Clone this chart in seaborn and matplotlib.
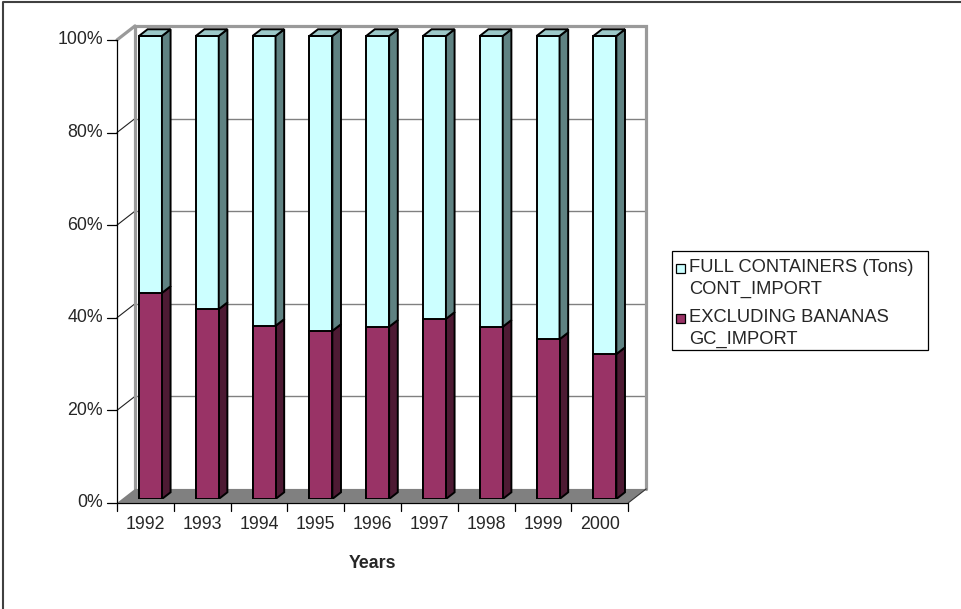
import matplotlib
matplotlib.use("Agg")
import matplotlib.pyplot as plt
from matplotlib.patches import Polygon, Rectangle
from matplotlib.lines import Line2D
import seaborn as sns

# ---- data -------------------------------------------------------------
years = ["1992", "1993", "1994", "1995", "1996", "1997", "1998", "1999", "2000"]
gc_import = [44.5, 41.0, 37.4, 36.3, 37.2, 38.9, 37.2, 34.5, 31.3]     # EXCLUDING BANANAS GC_IMPORT
cont_import = [55.5, 59.0, 62.6, 63.7, 62.8, 61.1, 62.8, 65.5, 68.7]   # FULL CONTAINERS (Tons) CONT_IMPORT
y_ticks = [0, 0.2, 0.4, 0.6, 0.8, 1.0]
y_tick_labels = ["0%", "20%", "40%", "60%", "80%", "100%"]
legend_labels = [["FULL CONTAINERS (Tons)", "CONT_IMPORT"],
                 ["EXCLUDING BANANAS", "GC_IMPORT"]]

# ---- style ------------------------------------------------------------
sns.set_style("white")
plt.rcParams["font.family"] = ["Liberation Sans", "DejaVu Sans"]
FS = 12.8
FS_LEG = 13.2

CYAN = "#CCFFFF"
CYAN_SIDE = "#5F8282"
CYAN_TOP = "#9CC9C9"
MAROON = "#993366"
MAROON_SIDE = "#4D1A33"
FLOOR = "#808080"
WALL_EDGE = "#9A9A9A"
GRID = "#808080"

W, H = 962, 609
fig = plt.figure(figsize=(W / 100, H / 100), dpi=100)

# pixel geometry of the plot box (bar plane: value 0 -> 499 px, 1 -> 36 px)
PX_PER_CAT = 56.8
PX_PER_UNIT = 463.0
DX = 18 / PX_PER_CAT      # full depth, x offset in data units
DY = 14 / PX_PER_UNIT     # full depth, y offset in data units
TB = 0.28                 # depth of the bar front faces
TBACK = 0.76              # depth of the bar back faces

x_lo, x_hi = -0.5 - TB * DX, 8.8
y_lo, y_hi = 0.0, 1.06
left_px, bottom_px = 117, 499
ax = fig.add_axes([left_px / W, (H - bottom_px) / H,
                   (x_hi - x_lo) * PX_PER_CAT / W, (y_hi - y_lo) * PX_PER_UNIT / H])


def P(x, v, t):
    """Point at category position x, value v, depth t (0 front, 1 back)."""
    return (x + (t - TB) * DX, v + (t - TB) * DY)


# ---- 100% stacked shares ---------------------------------------------
totals = [a + b for a, b in zip(gc_import, cont_import)]
gc_share = [a / s for a, s in zip(gc_import, totals)]
stack_top = [(a + b) / s for a, b, s in zip(gc_import, cont_import, totals)]

# ---- walls and floor --------------------------------------------------
n = len(years)
xl, xr = -0.5, n - 0.5

floor = Polygon([P(xl, 0, 0), P(xr, 0, 0), P(xr, 0, 1), P(xl, 0, 1)],
                closed=True, facecolor=FLOOR, edgecolor="none", zorder=1, clip_on=False)
ax.add_patch(floor)

for v in y_ticks[1:-1]:
    a, b = P(xl, v, 1), P(xr, v, 1)
    ax.add_line(Line2D([a[0], b[0]], [a[1], b[1]], color=GRID, lw=1.0, zorder=0.5))
    c, d = P(xl, v, 0), P(xl, v, 1)
    ax.add_line(Line2D([c[0], d[0]], [c[1], d[1]], color="#202020", lw=0.8, zorder=0.5,
                       clip_on=False))

# back wall outline (left, top, right) and the side wall top edge
wall = [P(xl, 0, 1), P(xl, 1, 1), P(xr, 1, 1), P(xr, 0, 1)]
ax.add_line(Line2D([p[0] for p in wall], [p[1] for p in wall], color=WALL_EDGE, lw=2.3,
                   zorder=0.8, solid_joinstyle="miter"))
a, b = P(xl, 1, 0), P(xl, 1, 1)
ax.add_line(Line2D([a[0], b[0]], [a[1], b[1]], color=WALL_EDGE, lw=2.3, zorder=0.8,
                   clip_on=False))

# front axes lines
a, b = P(xl, 0, 0), P(xl, 1, 0)
ax.add_line(Line2D([a[0], b[0]], [a[1], b[1]], color="black", lw=0.9, zorder=2, clip_on=False))
a, b = P(xl, 0, 0), P(xr, 0, 0)
ax.add_line(Line2D([a[0], b[0]], [a[1], b[1]], color="black", lw=0.9, zorder=2, clip_on=False))
a, b = P(xr, 0, 0), P(xr, 0, 1)
ax.add_line(Line2D([a[0], b[0]], [a[1], b[1]], color="#333333", lw=0.8, zorder=2, clip_on=False))

# y ticks and labels
tick_len_x = 10 / PX_PER_CAT
for v, lab in zip(y_ticks, y_tick_labels):
    fx, fy = P(xl, v, 0)
    ax.add_line(Line2D([fx - tick_len_x, fx], [fy, fy], color="black", lw=0.9, clip_on=False))
    ax.text(fx - tick_len_x - 4 / PX_PER_CAT, fy, lab, ha="right", va="center", fontsize=FS)

# x ticks and labels
tick_len_y = 8 / PX_PER_UNIT
for k in range(n + 1):
    fx, fy = P(k - 0.5, 0, 0)
    ax.add_line(Line2D([fx, fx], [fy, fy - tick_len_y], color="black", lw=0.9, clip_on=False))
for i, lab in enumerate(years):
    fx, fy = P(i, 0, 0)
    ax.text(fx, fy - 22 / PX_PER_UNIT, lab, ha="center", va="center", fontsize=FS)
fx, fy = P((n - 1) / 2, 0, 0)
ax.text(fx, fy - 61 / PX_PER_UNIT, "Years", ha="center", va="center", fontsize=FS,
        fontweight="bold")

# ---- bars (front faces) -----------------------------------------------
BAR_W = 23 / PX_PER_CAT
n0 = len(ax.patches)
sns.barplot(x=years, y=stack_top, order=years, color=CYAN, saturation=1, width=BAR_W,
            edgecolor="black", linewidth=1.4, ax=ax, zorder=3)
cyan_bars = ax.patches[n0:]
n1 = len(ax.patches)
sns.barplot(x=years, y=gc_share, order=years, color=MAROON, saturation=1, width=BAR_W,
            edgecolor="black", linewidth=1.4, ax=ax, zorder=3.2)
maroon_bars = ax.patches[n1:]

# ---- bar sides and tops -------------------------------------------------
ddx, ddy = (TBACK - TB) * DX, (TBACK - TB) * DY
for cb, mb in zip(cyan_bars, maroon_bars):
    x0 = cb.get_x()
    x1 = x0 + cb.get_width()
    top = cb.get_height()
    mid = mb.get_height()
    side_kw = dict(closed=True, edgecolor="black", linewidth=1.4, zorder=3.1,
                   joinstyle="miter")
    ax.add_patch(Polygon([(x1, 0), (x1, mid), (x1 + ddx, mid + ddy), (x1 + ddx, ddy)],
                         facecolor=MAROON_SIDE, **side_kw))
    ax.add_patch(Polygon([(x1, mid), (x1, top), (x1 + ddx, top + ddy), (x1 + ddx, mid + ddy)],
                         facecolor=CYAN_SIDE, **side_kw))
    ax.add_patch(Polygon([(x0, top), (x1, top), (x1 + ddx, top + ddy), (x0 + ddx, top + ddy)],
                         facecolor=CYAN_TOP, **side_kw))

ax.set_xlim(x_lo, x_hi)
ax.set_ylim(y_lo, y_hi)
ax.set_axis_off()

# ---- legend -------------------------------------------------------------
def fxy(x, y):
    return (x / W, 1 - y / H)

box_x0, box_y0, box_x1, box_y1 = 672, 251, 928, 350
fig.patches.append(Rectangle(fxy(box_x0, box_y1), (box_x1 - box_x0) / W,
                             (box_y1 - box_y0) / H, transform=fig.transFigure,
                             facecolor="white", edgecolor="black", lw=0.9))
entry_rows = [(268, 289), (318, 339)]
for (r1, r2), lines, col in zip(entry_rows, legend_labels, [CYAN, MAROON]):
    sq = 9
    fig.patches.append(Rectangle(fxy(676, r1 + sq / 2), sq / W, sq / H,
                                 transform=fig.transFigure, facecolor=col,
                                 edgecolor="black", lw=0.9))
    fig.text(*fxy(689, r1), lines[0], ha="left", va="center", fontsize=FS_LEG)
    fig.text(*fxy(689, r2), lines[1], ha="left", va="center", fontsize=FS_LEG)

# chart area border (left and top edges)
fig.lines.append(Line2D([3 / W, 3 / W, 1.0], [0.0, 1 - 1.5 / H, 1 - 1.5 / H],
                        transform=fig.transFigure, color="#404040", lw=1.5))

fig.savefig("out.png", dpi=100, facecolor="white")
